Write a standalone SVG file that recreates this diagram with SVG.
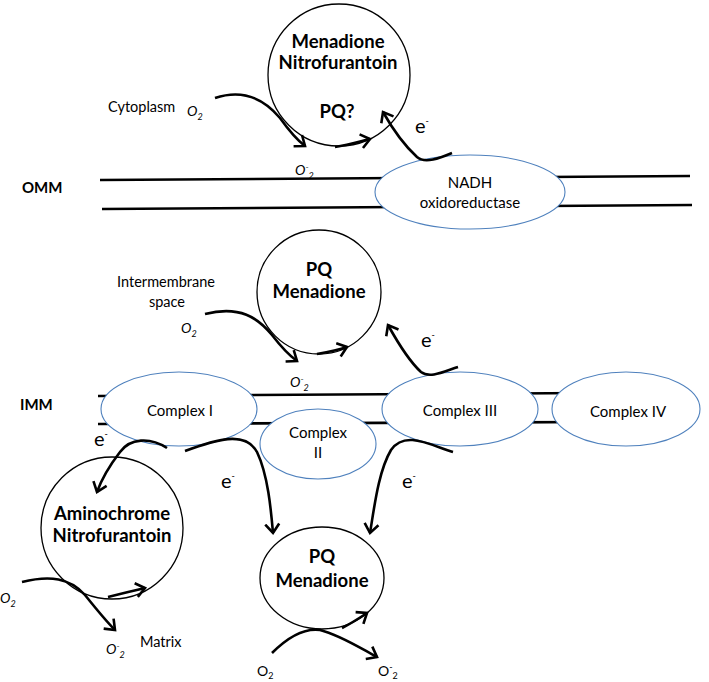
<svg xmlns="http://www.w3.org/2000/svg" width="709" height="682" viewBox="0 0 709 682">
<style>
.t{font-family:Lato,"Liberation Sans",sans-serif;fill:#000}
.lbl{font-size:14.5px}
.cx{font-size:15px;text-anchor:middle}
.bold{font-size:18.5px;font-weight:bold;text-anchor:middle}
.mem{font-size:15px;font-weight:bold}
.e{font-size:20px}
.ox{font-size:14px;font-style:italic}
.oxn{font-size:14px}
.sm{font-size:9px}
.cplx{fill:#fff;stroke:#4f81bd;stroke-width:1.1}
.mol{fill:#fff;stroke:#000;stroke-width:1.3}
.memb{stroke:#000;stroke-width:2.6;fill:none}
.arr{fill:none;stroke:#000;stroke-width:2.6;marker-end:url(#ah)}
</style>
<defs>
<marker id="ah" markerUnits="userSpaceOnUse" markerWidth="20" markerHeight="20" refX="10" refY="10" orient="auto">
<path d="M1,3 L10,10 L1,17" fill="none" stroke="#000" stroke-width="2.6" stroke-linejoin="miter"/>
</marker>
</defs>
<rect width="709" height="682" fill="#fff"/>

<g id="membranes">
<line class="memb" x1="100" y1="180" x2="690" y2="176"/>
<line class="memb" x1="102" y1="209" x2="692" y2="205"/>
<line class="memb" x1="98" y1="396" x2="590" y2="393"/>
<line class="memb" x1="98" y1="424" x2="590" y2="422"/>
</g>

<g id="labels">
<text class="t mem" x="22" y="193">OMM</text>
<text class="t mem" x="20" y="410">IMM</text>
<text class="t lbl" x="108" y="112">Cytoplasm</text>
<text class="t ox" x="187" y="116">O<tspan class="sm" dy="4">2</tspan></text>
<text class="t lbl" x="166" y="287" text-anchor="middle">Intermembrane</text>
<text class="t lbl" x="167" y="307" text-anchor="middle">space</text>
<text class="t ox" x="181" y="333">O<tspan class="sm" dy="4">2</tspan></text>
<text class="t lbl" x="140" y="647">Matrix</text>
<text class="t ox" x="0" y="603">O<tspan class="sm" dy="4">2</tspan></text>
<text class="t ox" x="106" y="654">O<tspan class="sm" dy="-5">-</tspan><tspan class="sm" dy="9">2</tspan></text>
<text class="t ox" x="295" y="175">O<tspan class="sm" dy="-5">-</tspan><tspan class="sm" dy="9">2</tspan></text>
<text class="t ox" x="290" y="387">O<tspan class="sm" dy="-5">-</tspan><tspan class="sm" dy="9">2</tspan></text>
<text class="t oxn" x="257" y="676">O<tspan class="sm" dy="3">2</tspan></text>
<text class="t oxn" x="378" y="676">O<tspan class="sm" dy="-6">-</tspan><tspan class="sm" dy="9">2</tspan></text>
<text class="t e" x="415" y="133">e<tspan class="sm" dy="-9">-</tspan></text>
<text class="t e" x="421" y="347">e<tspan class="sm" dy="-9">-</tspan></text>
<text class="t e" x="94" y="446">e<tspan class="sm" dy="-9">-</tspan></text>
<text class="t e" x="221" y="488">e<tspan class="sm" dy="-9">-</tspan></text>
<text class="t e" x="402" y="488">e<tspan class="sm" dy="-9">-</tspan></text>
</g>

<g id="nadh">
<ellipse class="cplx" cx="470" cy="192" rx="95" ry="37"/>
<text class="t cx" x="470" y="188">NADH</text>
<text class="t cx" x="470" y="208">oxidoreductase</text>
</g>
<g id="complex1">
<ellipse class="cplx" cx="179" cy="409" rx="78" ry="37"/>
<text class="t cx" x="180" y="416">Complex I</text>
</g>
<g id="complex2">
<ellipse class="cplx" cx="318" cy="444" rx="58" ry="35"/>
<text class="t cx" x="318" y="438">Complex</text>
<text class="t cx" x="318" y="458">II</text>
</g>
<g id="complex3">
<ellipse class="cplx" cx="460" cy="409" rx="78" ry="37"/>
<text class="t cx" x="460" y="416">Complex III</text>
</g>
<g id="complex4">
<ellipse class="cplx" cx="626" cy="409" rx="74" ry="37"/>
<text class="t cx" x="628" y="417">Complex IV</text>
</g>

<g id="top-molecule">
<circle class="mol" cx="339" cy="75" r="71"/>
<text class="t bold" x="338" y="48">Menadione</text>
<text class="t bold" x="338" y="69">Nitrofurantoin</text>
<text class="t bold" x="337" y="118">PQ?</text>
</g>
<g id="mid-molecule">
<circle class="mol" cx="319" cy="292" r="62"/>
<text class="t bold" x="319" y="276">PQ</text>
<text class="t bold" x="319" y="298">Menadione</text>
</g>
<g id="amino-molecule">
<circle class="mol" cx="112" cy="528" r="71"/>
<text class="t bold" x="112" y="520">Aminochrome</text>
<text class="t bold" x="112" y="542">Nitrofurantoin</text>
</g>
<g id="bottom-molecule">
<ellipse class="mol" cx="322" cy="578" rx="62" ry="51"/>
<text class="t bold" x="322" y="563">PQ</text>
<text class="t bold" x="322" y="587">Menadione</text>
</g>

<g id="connectors">
<path class="arr" d="M215,98 C245,88 265,100 280,118 C290,132 297,140 305,146"/>
<path class="arr" d="M335,147 C348,145 358,142 370,139"/>
<path class="arr" d="M452,153 C440,158 425,164 417,157 C405,146 392,128 383,112"/>
<path class="arr" d="M205,314 C240,305 258,318 272,335 C282,348 290,356 297,361"/>
<path class="arr" d="M317,354 C328,352 338,350 347,347"/>
<path class="arr" d="M458,367 C445,371 430,379 421,372 C410,362 398,343 388,325"/>
<path class="arr" d="M167,448 C150,437 130,438 120,452 C110,465 102,478 97,492"/>
<path class="arr" d="M185,451 C215,440 245,430 257,452 C268,475 271,510 273,533"/>
<path class="arr" d="M453,452 C430,445 405,430 391,450 C378,472 374,510 370,533"/>
<path class="arr" d="M342,628 C350,624 358,619 367,613"/>
<path class="arr" d="M272,653 C290,635 305,628 320,630 C340,635 360,648 377,657"/>
<path class="arr" d="M22,582 C50,575 70,578 85,595 C97,610 107,622 115,630"/>
<path class="arr" d="M108,597 C120,594 132,591 145,588"/>
</g>
</svg>
